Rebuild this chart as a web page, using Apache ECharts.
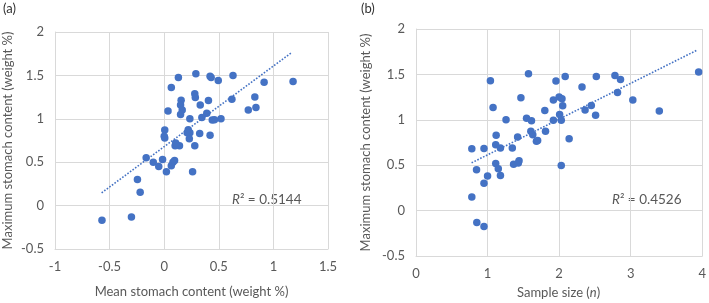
<!DOCTYPE html>
<html lang="en">
<head>
  <meta charset="UTF-8">
  <title>Stomach content scatter</title>
  <script src="https://cdn.jsdelivr.net/npm/echarts@6/dist/echarts.min.js"></script>
  <style>
    html, body { margin: 0; padding: 0; background: #fff; }
  </style>
</head>
<body>
<div id="main" style="width: 709px;height:303px;"></div>
<script>
  // (a) mean vs maximum stomach content
  var meanContent = [-0.57,-0.30,-0.22,-0.245,-0.165,-0.10,-0.05,-0.015,0.02,0.005,
    0.005,0.035,0.065,0.13,0.29,0.155,0.15,0.165,0.15,0.235,
    0.22,0.235,0.21,0.23,0.14,0.10,0.105,0.065,0.08,0.095,
    0.26,0.28,0.325,0.28,0.285,0.33,0.345,0.39,0.405,0.42,
    0.42,0.43,0.44,0.46,0.495,0.52,0.62,0.63,0.77,0.84,
    0.83,0.915,1.18,0.0];
  var maxContentA = [-0.17,-0.13,0.155,0.30,0.55,0.50,0.45,0.53,0.39,0.78,
    0.87,1.09,1.36,1.475,1.52,1.215,1.16,1.10,1.05,1.00,
    0.875,0.84,0.84,0.77,0.69,0.69,0.72,0.46,0.50,0.52,
    0.39,0.69,0.83,1.29,1.245,1.16,1.015,1.065,1.21,0.81,
    1.49,1.475,0.985,0.99,1.44,1.00,1.225,1.50,1.10,1.13,
    1.25,1.42,1.43,0.80];
  var trendA = [[-0.573, 0.147], [1.17, 1.766]];

  // (b) sample size vs maximum stomach content
  var sampleSize = [0.78,0.78,0.85,0.95,0.846,0.95,0.95,1.0,1.04,1.077,
    1.12,1.114,1.114,1.15,1.18,1.18,1.258,1.466,1.346,1.364,
    1.42,1.44,1.43,1.545,1.572,1.614,1.605,1.632,1.683,1.70,
    1.80,1.81,1.92,1.92,1.956,2.0,2.04,2.05,2.007,2.03,
    2.03,2.085,2.14,2.32,2.363,2.45,2.52,2.51,2.78,2.816,
    2.858,3.03,3.40,3.95];
  var maxContentB = [0.68,0.15,-0.13,-0.175,0.45,0.30,0.684,0.38,1.43,1.136,
    0.83,0.724,0.518,0.46,0.69,0.386,1.0,1.243,0.69,0.51,
    0.81,0.55,0.525,1.018,1.507,0.989,0.875,0.835,0.765,0.772,
    1.103,0.875,1.217,0.996,1.426,1.25,1.232,1.154,1.059,0.996,
    0.496,1.478,0.79,1.36,1.107,1.158,1.478,1.05,1.489,1.30,
    1.445,1.217,1.096,1.526];
  var trendB = [[0.777, 0.526], [3.93, 1.768]];

  var r2A = '0.5144';
  var r2B = '0.4526';

  function pairs(xs, ys) {
    var out = [];
    for (var i = 0; i < xs.length; i++) out.push([xs[i], ys[i]]);
    return out;
  }

  var blue = '#4472C4';
  var textColor = '#595959';
  var gridColor = '#d9d9d9';
  var font = 'Lato';
  var fs = 13;

  function xAx(gi, min, max, interval, name, gap) {
    return {
      gridIndex: gi, type: 'value', min: min, max: max, interval: interval,
      name: name, nameLocation: 'middle', nameGap: gap,
      nameTextStyle: { color: textColor, fontSize: fs, fontFamily: font },
      axisLine: { show: true, onZero: false, lineStyle: { color: gridColor } },
      axisTick: { show: false },
      axisLabel: { color: textColor, fontSize: fs, fontFamily: font, margin: 11 },
      splitLine: { show: true, lineStyle: { color: gridColor } }
    };
  }
  function yAx(gi, name, gap) {
    return {
      gridIndex: gi, type: 'value', min: -0.5, max: 2, interval: 0.5,
      name: name, nameLocation: 'middle', nameGap: gap,
      nameTextStyle: { color: textColor, fontSize: fs, fontFamily: font },
      axisLine: { show: true, onZero: false, lineStyle: { color: gridColor } },
      axisTick: { show: false },
      axisLabel: { color: textColor, fontSize: fs, fontFamily: font, margin: 11 },
      splitLine: { show: true, lineStyle: { color: gridColor } }
    };
  }

  var myChart = echarts.init(document.getElementById('main'));

  var option = {
    animation: false,
    backgroundColor: '#fff',
    grid: [
      { left: 53, top: 32, width: 275, height: 220 },
      { left: 416, top: 29, width: 288, height: 227 }
    ],
    xAxis: [
      xAx(0, -1, 1.5, 0.5, 'Mean stomach content (weight %)', 36),
      xAx(1, 0, 4, 1, '', 32)
    ],
    yAxis: [
      yAx(0, 'Maximum stomach content (weight %)', 41),
      yAx(1, 'Maximum stomach content (weight %)', 44)
    ],
    graphic: [
      { type: 'text', left: 3, top: 2, style: { text: '(a)', fill: '#333', font: '13px Lato' } },
      { type: 'text', left: 361, top: 2, style: { text: '(b)', fill: '#333', font: '13px Lato' } },
      {
        type: 'text', left: 232, top: 193,
        style: {
          text: '{i|R}{n|² = ' + r2A + '}',
          rich: {
            i: { fontStyle: 'italic', fill: textColor, fontSize: 13.5, fontFamily: font },
            n: { fill: textColor, fontSize: 13.5, fontFamily: font }
          }
        }
      },
      {
        type: 'text', left: 612, top: 193,
        style: {
          text: '{i|R}{n|² = ' + r2B + '}',
          rich: {
            i: { fontStyle: 'italic', fill: textColor, fontSize: 13.5, fontFamily: font },
            n: { fill: textColor, fontSize: 13.5, fontFamily: font }
          }
        }
      },
      {
        type: 'text', top: 286, left: 517,
        style: {
          text: '{n|Sample size (}{i|n}{n|)}',
          rich: {
            i: { fontStyle: 'italic', fill: textColor, fontSize: fs, fontFamily: font },
            n: { fill: textColor, fontSize: fs, fontFamily: font }
          }
        }
      }
    ],
    series: [
      {
        type: 'line', xAxisIndex: 0, yAxisIndex: 0, data: trendA,
        symbol: 'none', silent: true,
        lineStyle: { color: blue, width: 1.6, type: [1.6, 1.6] }
      },
      {
        type: 'scatter', xAxisIndex: 0, yAxisIndex: 0,
        data: pairs(meanContent, maxContentA),
        symbolSize: 7.5, itemStyle: { color: blue, opacity: 1 }
      },
      {
        type: 'line', xAxisIndex: 1, yAxisIndex: 1, data: trendB,
        symbol: 'none', silent: true,
        lineStyle: { color: blue, width: 1.6, type: [1.6, 1.6] }
      },
      {
        type: 'scatter', xAxisIndex: 1, yAxisIndex: 1,
        data: pairs(sampleSize, maxContentB),
        symbolSize: 7.5, itemStyle: { color: blue, opacity: 1 }
      }
    ]
  };

  myChart.setOption(option);
</script>
</body>
</html>
